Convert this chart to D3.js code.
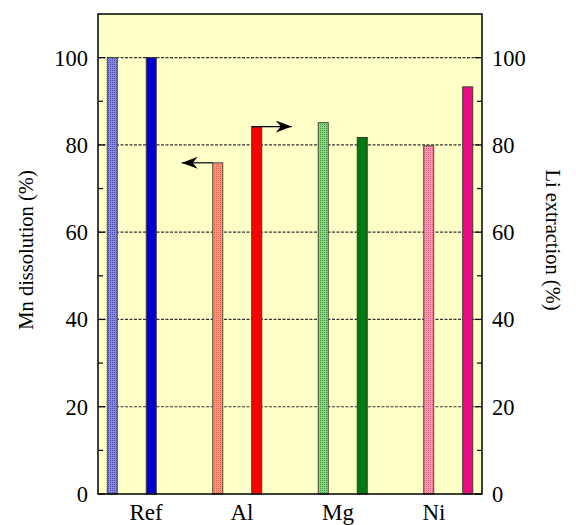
<!DOCTYPE html>
<html><head><meta charset="utf-8">
<script src="https://cdn.jsdelivr.net/npm/d3@7"></script>
<style>body{margin:0;background:#fff}svg{display:block}</style>
</head><body>
<script>
const categories = ["Ref", "Al", "Mg", "Ni"];
const mnDissolution = [100, 75.9, 85.1, 79.8];
const liExtraction = [100, 84.2, 81.7, 93.3];
const yTicks = [0, 20, 40, 60, 80, 100];
const minorTicks = [10, 30, 50, 70, 90];
const patternColors = [["#8888e0", "#4c4cb0"], ["#ff9a80", "#e05a40"], ["#90d488", "#3c9c3c"], ["#ff98b4", "#d85878"]];
const solidColors = ["#0000d0", "#ff0000", "#007a10", "#ee0a84"];

const W = 576, H = 525;
const m = {l: 98, r: 482, t: 14, b: 494};
const svg = d3.select("body").append("svg").attr("width", W).attr("height", H);
const defs = svg.append("defs");

patternColors.forEach((c, i) => {
  const p = defs.append("pattern").attr("id", "pat" + i).attr("patternUnits", "userSpaceOnUse")
    .attr("width", 2).attr("height", 2);
  p.append("rect").attr("width", 2).attr("height", 2).attr("fill", c[0]);
  p.append("rect").attr("width", 1).attr("height", 1).attr("fill", c[1]);
});
const mk = defs.append("marker").attr("id", "arrow").attr("viewBox", "0 0 16 12")
  .attr("refX", 16).attr("refY", 6).attr("markerWidth", 16).attr("markerHeight", 12)
  .attr("markerUnits", "userSpaceOnUse").attr("orient", "auto");
mk.append("path").attr("d", "M0,0 L16,6 L0,12 L5,6 Z").attr("fill", "#000");

const x = d3.scalePoint().domain(categories).range([m.l, m.r]).padding(0.32);
const xLabel = d3.scalePoint().domain(categories).range([m.l, m.r]).padding(0.5);
const y = d3.scaleLinear().domain([0, 110]).range([m.b, m.t]);
const off = 19.5, bw = 10;

svg.append("rect").attr("x", m.l).attr("y", m.t).attr("width", m.r - m.l).attr("height", m.b - m.t)
  .attr("fill", "#ffffc8");

// grid
svg.append("g").selectAll("line").data(yTicks.filter(d => d > 0)).join("line")
  .attr("x1", m.l).attr("x2", m.r).attr("y1", d => y(d)).attr("y2", d => y(d))
  .attr("stroke", "#333").attr("stroke-width", 1.2).attr("stroke-dasharray", "3,1.5");

// bars
const g = svg.append("g");
categories.forEach((c, i) => {
  g.append("rect").attr("x", x(c) - off - bw / 2).attr("y", y(mnDissolution[i]))
    .attr("width", bw).attr("height", m.b - y(mnDissolution[i]))
    .attr("fill", `url(#pat${i})`).attr("stroke", "#4a4a3a").attr("stroke-width", 1);
  g.append("rect").attr("x", x(c) + off - bw / 2).attr("y", y(liExtraction[i]))
    .attr("width", bw).attr("height", m.b - y(liExtraction[i]))
    .attr("fill", solidColors[i]).attr("stroke", "#3a3a30").attr("stroke-width", 1);
});

// arrows (Al group)
const al = categories[1];
svg.append("line").attr("x1", x(al) - off - bw / 2).attr("x2", x(al) - off - bw / 2 - 31)
  .attr("y1", y(mnDissolution[1])).attr("y2", y(mnDissolution[1]))
  .attr("stroke", "#000").attr("stroke-width", 1.2).attr("marker-end", "url(#arrow)");
svg.append("line").attr("x1", x(al) + off - bw / 2).attr("x2", x(al) + off - bw / 2 + 40)
  .attr("y1", y(liExtraction[1])).attr("y2", y(liExtraction[1]))
  .attr("stroke", "#000").attr("stroke-width", 1.2).attr("marker-end", "url(#arrow)");

// frame
svg.append("rect").attr("x", m.l).attr("y", m.t).attr("width", m.r - m.l).attr("height", m.b - m.t)
  .attr("fill", "none").attr("stroke", "#000").attr("stroke-width", 1.5);

// ticks
const tk = svg.append("g").attr("stroke", "#000").attr("stroke-width", 1.2);
yTicks.forEach(d => {
  tk.append("line").attr("x1", m.l).attr("x2", m.l + 7).attr("y1", y(d)).attr("y2", y(d));
  tk.append("line").attr("x1", m.r).attr("x2", m.r - 7).attr("y1", y(d)).attr("y2", y(d));
});
minorTicks.forEach(d => {
  tk.append("line").attr("x1", m.l).attr("x2", m.l + 5).attr("y1", y(d)).attr("y2", y(d));
  tk.append("line").attr("x1", m.r).attr("x2", m.r - 5).attr("y1", y(d)).attr("y2", y(d));
});

const font = "'Liberation Serif', 'Times New Roman', serif";
svg.append("g").selectAll("text").data(yTicks).join("text")
  .attr("x", m.l - 10).attr("y", d => y(d)).attr("dy", "0.35em").attr("text-anchor", "end")
  .attr("font-family", font).attr("font-size", 22.5).text(d => d);
svg.append("g").selectAll("text").data(yTicks).join("text")
  .attr("x", m.r + 10).attr("y", d => y(d)).attr("dy", "0.35em").attr("text-anchor", "start")
  .attr("font-family", font).attr("font-size", 22.5).text(d => d);
svg.append("g").selectAll("text").data(categories).join("text")
  .attr("x", d => xLabel(d)).attr("y", 520).attr("text-anchor", "middle")
  .attr("font-family", font).attr("font-size", 23).text(d => d);

svg.append("text").attr("transform", `translate(33,250) rotate(-90)`)
  .attr("text-anchor", "middle").attr("font-family", font).attr("font-size", 20.5).text("Mn dissolution (%)");
svg.append("text").attr("transform", `translate(546,240) rotate(90)`)
  .attr("text-anchor", "middle").attr("font-family", font).attr("font-size", 20.5).text("Li extraction (%)");
</script>
</body></html>
